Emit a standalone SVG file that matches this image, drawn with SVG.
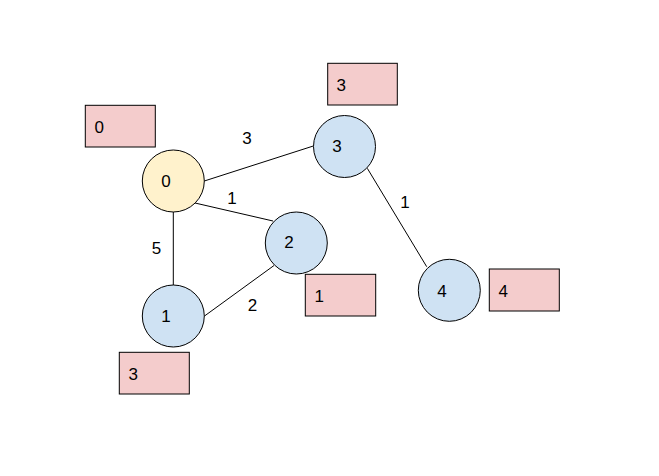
<svg xmlns="http://www.w3.org/2000/svg" width="659" height="476" viewBox="0 0 659 476">
<style>
.n{fill:#cfe2f3;stroke:#000;stroke-width:1}
.s{fill:#fff2cc;stroke:#000;stroke-width:1}
.b{fill:#f4cccc;stroke:#000;stroke-width:1}
.e{stroke:#000;stroke-width:1;fill:none}
text{font-family:"Liberation Sans",Arial,sans-serif;font-size:17px;fill:#000}
.c{text-anchor:middle;dominant-baseline:central}
.l{dominant-baseline:central}
</style>
<rect width="659" height="476" fill="#fff"/>
<g id="connectors">
<line class="e" x1="204.3" y1="181" x2="313.3" y2="146"/>
<line class="e" x1="195" y1="203" x2="273" y2="221"/>
<line class="e" x1="173.3" y1="212" x2="173.3" y2="285"/>
<line class="e" x1="204.5" y1="316" x2="274" y2="265.5"/>
<line class="e" x1="367.3" y1="168.3" x2="426.7" y2="266.7"/>
<text class="c" x="247" y="138">3</text>
<text class="c" x="232" y="198">1</text>
<text class="c" x="156.5" y="248">5</text>
<text class="c" x="252.5" y="305">2</text>
<text class="c" x="405" y="202">1</text>
</g>
<g id="node0"><circle class="s" cx="173.3" cy="181" r="31"/><text class="c" x="166" y="181">0</text></g>
<g id="node1"><circle class="n" cx="173.3" cy="316" r="31"/><text class="c" x="166" y="316">1</text></g>
<g id="node2"><circle class="n" cx="296.3" cy="243" r="31"/><text class="c" x="289" y="242">2</text></g>
<g id="node3"><circle class="n" cx="344.5" cy="146.5" r="31"/><text class="c" x="337" y="146">3</text></g>
<g id="node4"><circle class="n" cx="449.3" cy="290.3" r="31"/><text class="c" x="442" y="291">4</text></g>
<g id="box0"><rect class="b" x="85.3" y="105.3" width="70" height="41.7"/><text class="l" x="94.5" y="127">0</text></g>
<g id="box3top"><rect class="b" x="327.7" y="63.3" width="69.6" height="41.7"/><text class="l" x="336.5" y="85">3</text></g>
<g id="box1"><rect class="b" x="305.3" y="274.3" width="70.4" height="41.7"/><text class="l" x="314.5" y="296">1</text></g>
<g id="box4"><rect class="b" x="489.3" y="269" width="70" height="42"/><text class="l" x="498.5" y="291">4</text></g>
<g id="box3bottom"><rect class="b" x="119.3" y="352.3" width="70" height="41.7"/><text class="l" x="128.5" y="374">3</text></g>
</svg>
